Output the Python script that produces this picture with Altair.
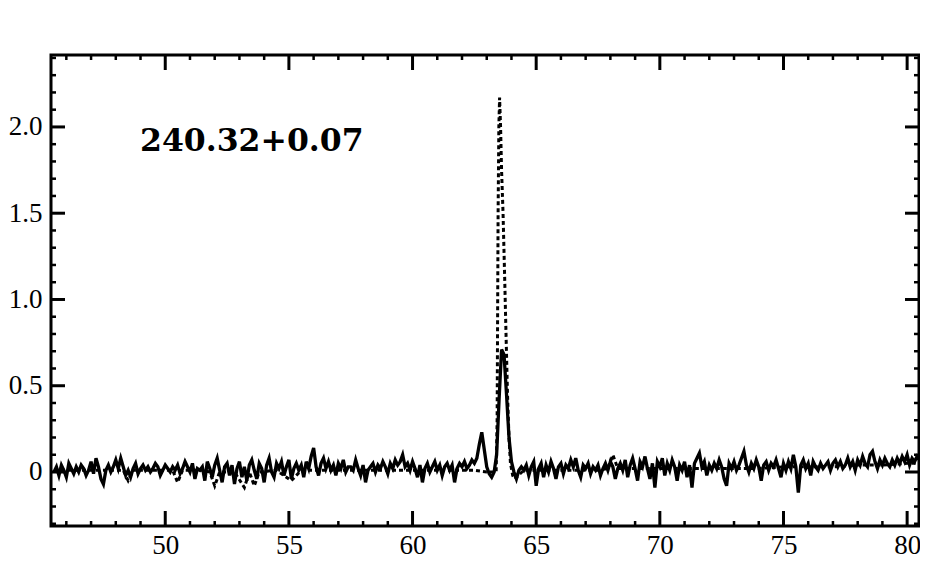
import altair as alt
import pandas as pd

# ---- data ----
solid_start = 45.5
solid_step = 0.1
solid_y = [
    0.00, 0.03, -0.02, 0.04, 0.01, -0.03, 0.05, 0.02, -0.01, 0.03,   # 45.5
    0.00, 0.04, 0.02, -0.02, 0.01, 0.06, -0.01, 0.08, 0.03, -0.04,   # 46.5
    -0.07, 0.01, 0.04, 0.00, 0.03, 0.07, 0.02, 0.08, 0.03, -0.02,    # 47.5
    0.01, -0.03, 0.02, 0.05, -0.01, 0.02, 0.04, 0.01, 0.03, 0.00,    # 48.5
    0.02, 0.05, 0.03, -0.02, 0.01, 0.04, 0.02, 0.00, 0.03, 0.01,     # 49.5
    0.04, -0.01, 0.02, 0.06, 0.03, 0.00, 0.05, -0.04, 0.02, 0.01,    # 50.5
    0.03, -0.05, 0.06, 0.02, -0.03, 0.04, 0.08, 0.01, -0.06, 0.03,   # 51.5
    0.05, -0.02, 0.04, -0.07, 0.02, 0.06, -0.03, 0.03, -0.05, 0.04,  # 52.5
    0.07, 0.01, -0.04, 0.05, 0.02, -0.06, 0.04, 0.08, 0.00, -0.03,   # 53.5
    0.05, 0.02, 0.06, -0.02, 0.03, 0.07, -0.04, 0.02, 0.05, 0.01,    # 54.5
    0.04, -0.03, 0.06, 0.02, 0.09, 0.14, 0.03, -0.02, 0.05, 0.08,    # 55.5
    0.02, 0.06, 0.01, 0.04, -0.02, 0.05, 0.02, 0.07, 0.00, 0.03,     # 56.5
    0.03, 0.01, 0.07, 0.02, -0.02, 0.04, -0.06, 0.01, 0.03, 0.05,    # 57.5
    0.00, 0.04, 0.02, 0.06, 0.03, -0.01, 0.05, 0.02, 0.07, 0.04,     # 58.5
    0.06, 0.10, 0.03, 0.05, 0.01, 0.06, 0.02, -0.03, 0.04, -0.06,    # 59.5
    0.02, 0.05, 0.00, 0.03, 0.06, 0.01, 0.04, -0.02, 0.03, 0.05,     # 60.5
    0.01, 0.04, -0.06, 0.02, 0.05, 0.03, 0.06, 0.02, 0.04, 0.07,     # 61.5
    0.05, 0.08, 0.16, 0.23, 0.13, 0.03, -0.01, -0.03, 0.00, 0.10,    # 62.5
    0.42, 0.71, 0.68, 0.45, 0.20, 0.06, 0.00, -0.04, 0.01, 0.03,     # 63.5
    0.01, 0.04, -0.02, 0.03, 0.06, -0.08, 0.02, 0.05, -0.03, 0.04,   # 64.5
    0.00, 0.06, 0.02, -0.04, 0.03, 0.05, -0.01, 0.04, 0.02, 0.07,    # 65.5
    0.03, 0.08, 0.01, -0.03, 0.04, 0.02, 0.05, -0.01, 0.03, 0.01,    # 66.5
    0.04, -0.02, 0.02, 0.05, 0.01, 0.06, 0.03, -0.04, 0.02, 0.05,    # 67.5
    0.01, 0.07, -0.03, 0.04, 0.08, 0.02, -0.05, 0.06, 0.03, 0.09,    # 68.5
    0.02, -0.04, 0.05, -0.09, 0.06, 0.03, 0.08, -0.02, 0.05, 0.01,   # 69.5
    0.07, 0.03, -0.05, 0.04, 0.01, 0.06, -0.03, 0.04, -0.09, 0.05,   # 70.5
    0.08, 0.11, 0.03, 0.06, -0.02, 0.04, 0.01, 0.05, 0.02, 0.07,     # 71.5
    0.03, -0.04, -0.08, 0.05, 0.02, 0.06, 0.01, 0.04, 0.08, 0.12,    # 72.5
    0.04, 0.00, 0.05, 0.02, 0.07, 0.03, -0.05, 0.04, 0.06, 0.01,     # 73.5
    0.05, 0.03, 0.07, 0.02, -0.03, 0.05, 0.01, 0.06, 0.02, 0.10,     # 74.5
    0.03, -0.12, 0.04, 0.07, 0.02, 0.05, -0.02, 0.06, 0.03, 0.01,    # 75.5
    0.05, 0.02, 0.04, 0.06, 0.01, 0.05, 0.07, 0.03, 0.06, 0.02,      # 76.5
    0.04, 0.08, 0.03, 0.06, 0.01, 0.07, 0.04, 0.09, 0.05, 0.03,      # 77.5
    0.10, 0.12, 0.06, 0.02, 0.07, 0.04, 0.08, 0.05, 0.03, 0.07,      # 78.5
    0.04, 0.08, 0.05, 0.09, 0.06, 0.10, 0.04, 0.08, 0.06, 0.09,      # 79.5
    0.07,                                                            # 80.5
]

dotted_x = [45.5, 46.5, 47.5, 48.3, 48.5, 48.7, 49.5, 50.3, 50.5, 50.7,
            51.5, 51.8, 52.0, 52.2, 52.8, 53.2, 53.4, 53.6, 53.8, 54.5,
            55.1, 55.5, 56.5, 57.5, 58.5, 59.5, 60.5, 61.5, 62.5, 63.0, 63.3,
            63.38, 63.42, 63.44, 63.46, 63.49, 63.52, 63.56, 63.60, 63.66,
            63.73, 63.78, 63.84, 63.90, 63.96, 64.05, 64.13,
            64.5, 65.5, 66.5, 67.5, 67.9, 68.1, 68.3, 69.0, 70.0, 71.0, 72.0,
            73.0, 74.0, 75.0, 76.0, 77.0, 78.0, 79.0, 80.0, 80.5]
dotted_y = [0.01, 0.01, 0.01, 0.01, -0.05, 0.01, 0.01, 0.01, -0.06, 0.01,
            0.01, 0.00, -0.08, 0.00, 0.00, -0.09, 0.00, -0.08, 0.00, 0.01,
            -0.05, 0.01, 0.01, 0.01, 0.01, 0.01, 0.01, 0.01, 0.01, 0.00, 0.00,
            0.00, 0.30, 0.90, 1.50, 2.00, 2.17, 2.00, 1.75, 1.50,
            1.10, 0.80, 0.45, 0.20, 0.05, -0.02, -0.04,
            0.01, 0.01, 0.01, 0.01, 0.02, 0.10, 0.02, 0.02, 0.02, 0.02, 0.02,
            0.02, 0.02, 0.03, 0.03, 0.03, 0.04, 0.04, 0.05, 0.05]

x_labels = [50, 55, 60, 65, 70, 75, 80]
x_minor = [46, 47, 48, 49, 51, 52, 53, 54, 56, 57, 58, 59, 61, 62, 63, 64,
           66, 67, 68, 69, 71, 72, 73, 74, 76, 77, 78, 79]
y_labels = [0, 0.5, 1.0, 1.5, 2.0]
y_minor = [-0.3, -0.2, -0.1, 0.1, 0.2, 0.3, 0.4, 0.6, 0.7, 0.8, 0.9,
           1.1, 1.2, 1.3, 1.4, 1.6, 1.7, 1.8, 1.9, 2.1, 2.2, 2.3, 2.4]
annotation = "240.32+0.07"
annotation_x = 53.5
annotation_y = 1.91

# ---- build ----
W, H = 868, 471
XD = [45.38, 80.48]
YD = [-0.313, 2.417]
xs = alt.Scale(domain=XD, nice=False, zero=False)
ys = alt.Scale(domain=YD, nice=False, zero=False)
FONT = "Liberation Serif"

solid_df = pd.DataFrame({
    "x": [round(solid_start + solid_step * i, 2) for i in range(len(solid_y))],
    "y": solid_y,
})
dotted_df = pd.DataFrame({"x": dotted_x, "y": dotted_y})

x_axis = alt.Axis(values=x_labels, ticks=False, domain=False, grid=False,
                  labelFont=FONT, labelFontSize=27, labelColor="black",
                  labelPadding=6, title=None, labelFlush=False)
y_axis = alt.Axis(values=y_labels, ticks=False, domain=False, grid=False,
                  labelFont=FONT, labelFontSize=27, labelColor="black",
                  labelPadding=9, title=None,
                  labelExpr="datum.value == 0 ? '0' : format(datum.value, '.1f')")


def X(field):
    return alt.X(field, scale=xs, axis=x_axis)


def Y(field):
    return alt.Y(field, scale=ys, axis=y_axis)


solid = alt.Chart(solid_df).mark_line(color="black", strokeWidth=3.3, clip=True).encode(
    x=X("x:Q"), y=Y("y:Q"),
)
dotted = alt.Chart(dotted_df).mark_line(color="black", strokeWidth=3,
                                        strokeDash=[4, 3], clip=True).encode(
    x=X("x:Q"), y=Y("y:Q"),
)
label = alt.Chart(pd.DataFrame({"x": [annotation_x], "y": [annotation_y],
                                "t": [annotation]})).mark_text(
    font="DejaVu Serif", fontSize=31.5, fontWeight="bold", color="black",
    align="center", baseline="middle").encode(
    x=X("x:Q"), y=Y("y:Q"), text="t:N",
)


def xticks(vals, length, width):
    df = pd.DataFrame({"v": vals})
    base = alt.Chart(df).mark_rule(color="black", strokeWidth=width)
    bottom = base.encode(x=X("v:Q"), y=alt.value(H), y2=alt.value(H - length))
    top = base.encode(x=X("v:Q"), y=alt.value(0), y2=alt.value(length))
    return [bottom, top]


def yticks(vals, length, width):
    df = pd.DataFrame({"v": vals})
    base = alt.Chart(df).mark_rule(color="black", strokeWidth=width)
    left = base.encode(y=Y("v:Q"), x=alt.value(0), x2=alt.value(length))
    right = base.encode(y=Y("v:Q"), x=alt.value(W), x2=alt.value(W - length))
    return [left, right]


layers = [solid, dotted, label]
layers += xticks(x_labels, 15, 3) + xticks(x_minor, 5, 2.5)
layers += yticks(y_labels, 14, 3) + yticks(y_minor, 5, 2.5)

chart = alt.layer(*layers).properties(
    width=W, height=H,
    autosize=alt.AutoSizeParams(type="none"),
    padding={"left": 43, "top": 47, "right": 1, "bottom": 40},
    background="white",
).configure_view(stroke="black", strokeWidth=3)

chart.save("out.html", embed_options={"renderer": "svg", "actions": False})
